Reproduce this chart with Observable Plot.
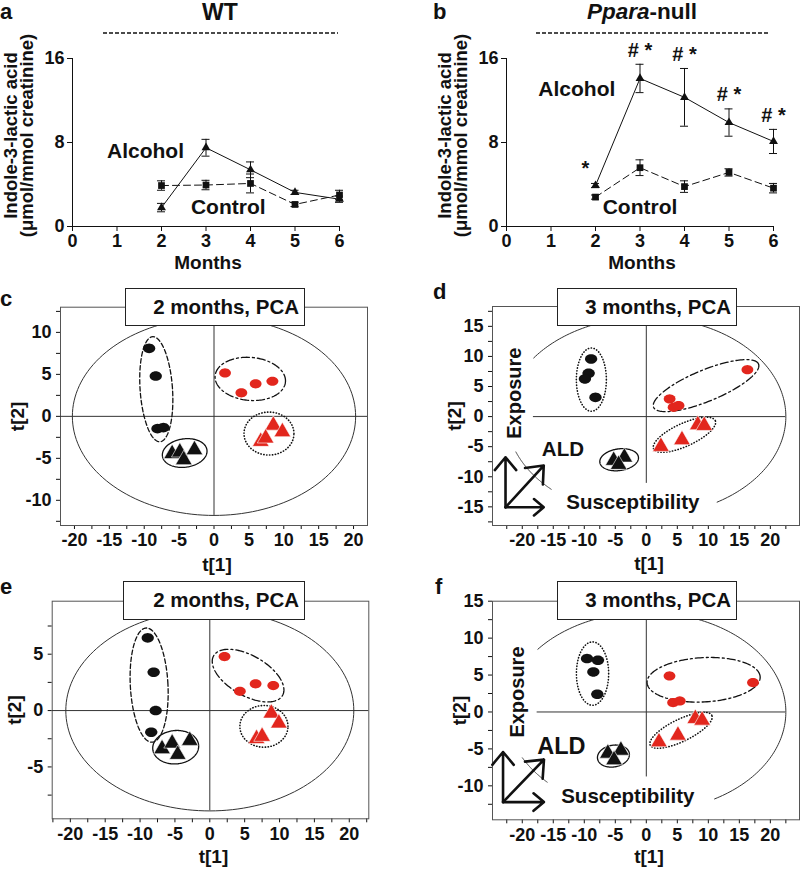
<!DOCTYPE html>
<html><head><meta charset="utf-8">
<script src="https://cdn.jsdelivr.net/npm/d3@7"></script>
<script src="https://cdn.jsdelivr.net/npm/@observablehq/plot@0.6"></script>
<style>
html,body{margin:0;padding:0;background:#fff;}
#fig{position:relative;width:800px;height:872px;overflow:hidden;font-family:'Liberation Sans',Arial,Helvetica,sans-serif;font-weight:bold;color:#111;background:#fff;}
.lbl{position:absolute;line-height:1;white-space:nowrap;}
.box{position:absolute;box-sizing:border-box;border:1.5px solid #222;background:#fff;text-align:right;padding-right:5px;font-size:20.5px;}
</style></head><body><div id="fig"></div><script>
const FONT = "'Liberation Sans', Arial, Helvetica, sans-serif";
const INK = "#111";
const RED = "#e2261d";

// ---------- Panels a & b: urinary indole-3-lactic acid ----------
const months = [2, 3, 4, 5, 6];
const wtAlcohol = [1.8, 7.5, 5.4, 3.25, 2.6];
const wtAlcoholSem = [0.4, 0.8, 0.75, 0.2, 0.3];
const wtControl = [3.9, 3.95, 4.1, 2.1, 3.0];
const wtControlSem = [0.45, 0.45, 0.9, 0.2, 0.45];
const pparaAlcohol = [3.9, 14.1, 12.3, 9.9, 8.1];
const pparaAlcoholSem = [0.2, 1.35, 2.75, 1.3, 1.15];
const pparaControl = [2.8, 5.6, 3.8, 5.15, 3.65];
const pparaControlSem = [0.2, 0.75, 0.55, 0.35, 0.45];
const pparaSig = ["*", "# *", "# *", "# *", "# *"];
const yTicksAB = [0, 8, 16];
const xTicksAB = [0, 1, 2, 3, 4, 5, 6];

// ---------- Panels c-f: PCA scores [group, t1, t2] ----------
const scoresC = [
  ["ctlWT", -9.3, 8.1], ["ctlWT", -8.35, 4.8], ["ctlWT", -8.1, -1.46], ["ctlWT", -7.25, -1.34],
  ["ctlNull", -6.0, -4.46], ["ctlNull", -4.9, -4.27], ["ctlNull", -4.33, -5.18], ["ctlNull", -2.8, -3.99],
  ["alcWT", 1.58, 5.17], ["alcWT", 3.92, 2.8], ["alcWT", 5.97, 3.87], ["alcWT", 8.37, 4.18],
  ["alcNull", 8.5, -1.07], ["alcNull", 9.8, -1.85], ["alcNull", 6.7, -3.0], ["alcNull", 7.4, -2.6]
];
const scoresD = [
  ["ctlWT", -8.9, 9.58], ["ctlWT", -9.3, 7.2], ["ctlWT", -9.9, 6.26], ["ctlWT", -8.2, 3.2],
  ["ctlNull", -5.26, -7.3], ["ctlNull", -3.54, -6.76], ["ctlNull", -4.46, -7.97],
  ["alcWT", 3.76, 2.94], ["alcWT", 4.4, 1.55], ["alcWT", 5.2, 1.83], ["alcWT", 16.3, 7.8],
  ["alcNull", 2.36, -4.98], ["alcNull", 5.75, -3.87], ["alcNull", 8.3, -1.38], ["alcNull", 9.34, -1.5]
];
const scoresE = [
  ["ctlWT", -8.9, 6.45], ["ctlWT", -8.05, 3.4], ["ctlWT", -7.76, 0.0], ["ctlWT", -8.4, -1.92],
  ["ctlNull", -6.85, -3.4], ["ctlNull", -5.4, -2.9], ["ctlNull", -4.6, -3.9], ["ctlNull", -2.87, -2.66],
  ["alcWT", 2.11, 4.79], ["alcWT", 4.31, 1.71], ["alcWT", 6.57, 2.37], ["alcWT", 9.1, 2.22],
  ["alcNull", 8.82, -0.24], ["alcNull", 9.9, -1.12], ["alcNull", 6.7, -2.5], ["alcNull", 7.5, -2.3]
];
const scoresF = [
  ["ctlWT", -9.56, 7.23], ["ctlWT", -7.8, 7.0], ["ctlWT", -8.54, 5.42], ["ctlWT", -7.9, 2.4],
  ["ctlNull", -6.2, -5.6], ["ctlNull", -4.1, -5.2], ["ctlNull", -5.2, -6.5],
  ["alcWT", 3.74, 4.88], ["alcWT", 4.32, 1.27], ["alcWT", 5.4, 1.49], ["alcWT", 17.2, 3.98],
  ["alcNull", 2.04, -4.07], ["alcNull", 5.1, -3.16], ["alcNull", 7.9, -0.9], ["alcNull", 9.0, -1.13]
];
// group ellipses [group, centre t1, centre t2, semi-axis t1, semi-axis t2, tilt deg]
const clustersC = [["ctlWT", -8.27, 3.23, 2.32, 6.27, 4], ["ctlNull", -4.2, -4.37, 3.22, 1.69, 8],
  ["alcWT", 5.2, 4.46, 5.06, 2.56, -5], ["alcNull", 7.88, -2.05, 3.58, 2.56, 0]];
const clustersD = [["ctlWT", -8.86, 6.15, 2.42, 5.26, 0], ["ctlNull", -4.38, -7.17, 3.14, 1.8, 8],
  ["alcWT", 9.63, 5.15, 9.15, 2.6, 22.4], ["alcNull", 6.15, -3.02, 5.47, 1.9, 24.6]];
const clustersE = [["ctlWT", -8.7, 2.26, 2.7, 5.07, 3], ["ctlNull", -4.89, -3.25, 3.3, 1.48, 5],
  ["alcWT", 5.49, 3.1, 5.7, 1.77, -30], ["alcNull", 7.76, -1.4, 3.45, 1.85, 0]];
const clustersF = [["ctlWT", -8.67, 5.2, 2.6, 4.29, 0], ["ctlNull", -5.3, -5.97, 2.6, 1.47, 10],
  ["alcWT", 9.24, 4.36, 9.13, 3.0, 3], ["alcNull", 5.6, -2.48, 5.52, 1.5, 25.9]];
// Hotelling T2 ellipse semi-axes [t1, t2]
const hotellingC = [20.3, 11.8];
const hotellingD = [22.5, 16.5];
const hotellingE = [20.65, 8.9];
const hotellingF = [22.5, 13.5];

const fig = document.getElementById("fig");
function place(el, left, top) { el.style.position = "absolute"; el.style.left = left + "px"; el.style.top = top + "px"; fig.appendChild(el); }
function label(text, x, baseline, size, anchor = "left", html = false) {
  const d = document.createElement("div");
  d.className = "lbl"; d.style.fontSize = size + "px";
  if (html) d.innerHTML = text; else d.textContent = text;
  d.style.left = x + "px"; d.style.top = (baseline - 0.8465 * size) + "px";
  if (anchor === "middle") d.style.transform = "translateX(-50%)";
  fig.appendChild(d);
}
const baseStyle = {background: "transparent", fontFamily: FONT, fontSize: "18px", fontWeight: "bold", color: INK, overflow: "visible"};

function linePanel(left, alc, alcSem, ctl, ctlSem, alcLabel, ctlLabel, sig) {
  const alcRows = months.map((m, i) => ({m, v: alc[i], s: alcSem[i]}));
  const ctlRows = months.map((m, i) => ({m, v: ctl[i], s: ctlSem[i]}));
  const rows = alcRows.concat(ctlRows);
  const cap = 0.09;
  const marks = [
    Plot.ruleX([0], {y1: 0, y2: 16, stroke: INK, strokeWidth: 1}),
    Plot.ruleY([0], {x1: 0, x2: 6, stroke: INK, strokeWidth: 1}),
    Plot.line(ctlRows, {x: "m", y: "v", stroke: INK, strokeWidth: 1, strokeDasharray: "7,4"}),
    Plot.line(alcRows, {x: "m", y: "v", stroke: INK, strokeWidth: 1}),
    Plot.ruleX(rows, {x: "m", y1: d => d.v - d.s, y2: d => d.v + d.s, stroke: INK, strokeWidth: 1}),
    Plot.ruleY(rows, {y: d => d.v + d.s, x1: d => d.m - cap, x2: d => d.m + cap, stroke: INK, strokeWidth: 1}),
    Plot.ruleY(rows, {y: d => d.v - d.s, x1: d => d.m - cap, x2: d => d.m + cap, stroke: INK, strokeWidth: 1}),
    Plot.dot(ctlRows, {x: "m", y: "v", symbol: "square", r: 3.8, fill: INK}),
    Plot.dot(alcRows, {x: "m", y: "v", symbol: "triangle", r: 3.3, fill: INK}),
    Plot.text(["Alcohol"], {x: alcLabel[0], y: alcLabel[1], text: d => d, fontSize: 21, fontWeight: "bold"}),
    Plot.text(["Control"], {x: ctlLabel[0], y: ctlLabel[1], text: d => d, fontSize: 21, fontWeight: "bold"}),
    Plot.text(["Indole-3-lactic acid\n(\u03bcmol/mmol creatinine)"], {frameAnchor: "left", textAnchor: "middle", lineAnchor: "middle", rotate: -90, dx: -53, dy: -7, lineHeight: 0.88, fontSize: 18.5, fontWeight: "bold", text: d => d}),
    Plot.text(["Months"], {frameAnchor: "bottom", textAnchor: "middle", lineAnchor: "middle", dx: 2, dy: 36, fontSize: 19, fontWeight: "bold", text: d => d})
  ];
  if (sig) {
    const sigRows = months.map((m, i) => ({m, top: alc[i] + alcSem[i], t: sig[i]}));
    marks.push(Plot.text(sigRows.slice(0, 1), {x: "m", y: "top", text: "t", dx: -10, dy: -15, fontSize: 20, fontWeight: "bold"}));
    marks.push(Plot.text(sigRows.slice(1), {x: "m", y: "top", text: "t", dy: -14, fontSize: 20, fontWeight: "bold"}));
  }
  const svg = Plot.plot({
    width: 360, height: 275, marginLeft: 72, marginRight: 21, marginTop: 58, marginBottom: 49,
    style: baseStyle,
    x: {domain: [0, 6], ticks: xTicksAB, tickFormat: d => String(d), tickSize: 5, tickPadding: 3, label: null},
    y: {domain: [0, 16], ticks: yTicksAB, tickFormat: d => String(d), tickSize: 5, tickPadding: 3, label: null},
    marks
  });
  place(svg, left, 0);
}

function ellipsePts(cx, cy, rx, ry, ang, sx, sy, a0 = 0, a1 = 360, n = 160) {
  const th = ang * Math.PI / 180, pts = [];
  for (let i = 0; i <= n; i++) {
    const t = (a0 + (a1 - a0) * i / n) * Math.PI / 180;
    const px = rx * sx * Math.cos(t), py = ry * sy * Math.sin(t);
    const X = px * Math.cos(th) - py * Math.sin(th);
    const Y = px * Math.sin(th) + py * Math.cos(th);
    pts.push({x: cx + X / sx, y: cy + Y / sy});
  }
  return pts;
}
const ellipseSymbol = {
  draw(ctx, size) {
    const r = Math.sqrt(size / Math.PI), rx = 1.18 * r, ry = 0.92 * r;
    ctx.moveTo(rx, 0);
    for (let i = 1; i < 32; i++) { const t = i / 32 * 2 * Math.PI; ctx.lineTo(rx * Math.cos(t), ry * Math.sin(t)); }
    ctx.closePath();
  }
};
const dashes = {
  solid: {},
  dashed: {strokeDasharray: "4.5,2.5"},
  dashdot: {strokeDasharray: "8,3,2,3"},
  dotted: {strokeDasharray: "0.3,2.6", strokeLinecap: "round", strokeWidth: 1.6}
};

function pcaPanel(cfg) {
  const {left, top, width, height, mL, mR, mT, mB, xDom, yDom} = cfg;
  const sx = (width - mL - mR) / (xDom[1] - xDom[0]);
  const sy = (height - mT - mB) / (yDom[1] - yDom[0]);
  const inDom = (v, dom) => v >= dom[0] - 1e-9 && v <= dom[1] + 1e-9;
  const xt = d3.range(-25, 25.01, 2.5).filter(v => inDom(v, xDom));
  const yt = d3.range(-20, 20.01, 2.5).filter(v => inDom(v, yDom));
  const fmt = v => Math.abs(v % 5) < 1e-9 ? String(v) : "";
  const rows = cfg.scores.map(([g, t1, t2]) => ({g, t1, t2}));
  const styleOf = {ctlWT: cfg.circleStyle, ctlNull: "solid", alcWT: "dashdot", alcNull: "dotted"};
  const marks = [
    Plot.frame({stroke: "#555", strokeWidth: 1}),
    Plot.ruleY([0], {x1: cfg.hRule[0], x2: cfg.hRule[1], stroke: "#333", strokeWidth: 1}),
    Plot.ruleX([0], {y1: cfg.vRule[0], y2: cfg.vRule[1], stroke: "#333", strokeWidth: 1})
  ];
  const [hx, hy] = cfg.hotelling;
  for (const [a0, a1] of cfg.arcs) {
    marks.push(Plot.line(ellipsePts(0, 0, hx, hy, 0, sx, sy, a0, a1), {x: "x", y: "y", stroke: "#333", strokeWidth: 1}));
  }
  for (const [g, cx, cy, rx, ry, ang] of cfg.clusters) {
    const st = dashes[styleOf[g]];
    marks.push(Plot.line(ellipsePts(cx, cy, rx, ry, ang, sx, sy), {x: "x", y: "y", stroke: INK, strokeWidth: 1.3, ...st}));
  }
  marks.push(
    Plot.dot(rows.filter(d => d.g === "ctlWT"), {x: "t1", y: "t2", symbol: ellipseSymbol, r: 5.2, fill: INK}),
    Plot.dot(rows.filter(d => d.g === "alcWT"), {x: "t1", y: "t2", symbol: ellipseSymbol, r: 5.0, fill: RED}),
    Plot.dot(rows.filter(d => d.g === "ctlNull"), {x: "t1", y: "t2", symbol: "triangle", r: 6.2, fill: INK, stroke: "#fff", strokeWidth: 0.6}),
    Plot.dot(rows.filter(d => d.g === "alcNull"), {x: "t1", y: "t2", symbol: "triangle", r: 6.2, fill: RED, stroke: "#fff", strokeWidth: 0.6}),
    Plot.text(["t[2]"], {frameAnchor: "left", rotate: -90, dx: cfg.yLabDx, textAnchor: "middle", lineAnchor: "middle", fontSize: 19, fontWeight: "bold", text: d => d}),
    Plot.text(["t[1]"], {frameAnchor: "bottom", textAnchor: "middle", lineAnchor: "middle", dx: 3, dy: cfg.xLabDy, fontSize: 19, fontWeight: "bold", text: d => d})
  );
  if (cfg.extra) marks.push(...cfg.extra);
  const svg = Plot.plot({
    width, height, marginLeft: mL, marginRight: mR, marginTop: mT, marginBottom: mB,
    style: baseStyle,
    x: {domain: xDom, ticks: xt, tickFormat: fmt, tickSize: 4, tickPadding: 4, label: null},
    y: {domain: yDom, ticks: yt, tickFormat: fmt, tickSize: 4, tickPadding: 5, label: null},
    marks
  });
  place(svg, left, top);
}

function susceptibilityMarks(origin, upY, rightX, diagY, txt, aldSize) {
  const arrows = [
    {x1: origin[0], y1: origin[1], x2: origin[0], y2: upY},
    {x1: origin[0], y1: origin[1], x2: rightX, y2: origin[1]},
    {x1: origin[0], y1: origin[1], x2: rightX, y2: diagY}
  ];
  return [
    Plot.arrow(arrows, {x1: "x1", y1: "y1", x2: "x2", y2: "y2", stroke: INK, strokeWidth: 2.6, headLength: 11, headAngle: 80}),
    Plot.text(["Exposure"], {x: txt.exp[0], y: txt.exp[1], rotate: -90, textAnchor: "middle", text: d => d, fontSize: 20, fontWeight: "bold"}),
    Plot.text(["ALD"], {x: txt.ald[0], y: txt.ald[1], text: d => d, fontSize: aldSize, fontWeight: "bold"}),
    Plot.text(["Susceptibility"], {x: txt.sus[0], y: txt.sus[1], text: d => d, fontSize: 20.5, fontWeight: "bold"})
  ];
}

// ---- build panels ----
linePanel(0, wtAlcohol, wtAlcoholSem, wtControl, wtControlSem, [1.64, 7.2], [3.5, 1.8], null);
linePanel(434, pparaAlcohol, pparaAlcoholSem, pparaControl, pparaControlSem, [1.58, 13.1], [3.0, 1.8], pparaSig);

pcaPanel({left: 0, top: 280, width: 380, height: 295, mL: 60, mR: 13, mT: 26.7, mB: 50,
  xDom: [-22, 22], yDom: [-13, 13], scores: scoresC, clusters: clustersC, circleStyle: "dashed",
  hotelling: hotellingC, arcs: [[0, 360]], hRule: [-22, 22], vRule: [-11.8, 13],
  yLabDx: -42.5, xLabDy: 39.5});
pcaPanel({left: 420, top: 280, width: 380, height: 295, mL: 72, mR: 1, mT: 26, mB: 50,
  xDom: [-24.8, 24.7], yDom: [-18.1, 18.3], scores: scoresD, clusters: clustersD, circleStyle: "dotted",
  hotelling: hotellingD, arcs: [[-59.5, 143.8], [200.9, 227]], hRule: [-18.2, 22.5], vRule: [-11.1, 16.5],
  yLabDx: -37.5, xLabDy: 38.5,
  extra: susceptibilityMarks([-22.7, -15.07], -6.76, -16.54, -8.14,
    {exp: [-21.2, 3.9], ald: [-13.45, -5.48], sus: [-2.17, -14.3]}, 20.5)});
pcaPanel({left: 0, top: 570, width: 380, height: 302, mL: 51.7, mR: 11.7, mT: 30.7, mB: 53.7,
  xDom: [-22.6, 22.8], yDom: [-9.6, 9.7], scores: scoresE, clusters: clustersE, circleStyle: "dashed",
  hotelling: hotellingE, arcs: [[0, 360]], hRule: [-22.6, 22.8], vRule: [-8.9, 9.7],
  yLabDx: -37.2, xLabDy: 38.2});
pcaPanel({left: 420, top: 570, width: 380, height: 302, mL: 72, mR: 1, mT: 30.7, mB: 52.7,
  xDom: [-24.8, 24.7], yDom: [-14.6, 15.0], scores: scoresF, clusters: clustersF, circleStyle: "dotted",
  hotelling: hotellingF, arcs: [[-60.7, 141], [207.4, 224.7]], hRule: [-17.6, 22.5], vRule: [-8.8, 13.5],
  yLabDx: -32.5, xLabDy: 37.2,
  extra: susceptibilityMarks([-23.1, -12.2], -5.42, -16.5, -6.45,
    {exp: [-20.8, 2.7], ald: [-13.7, -4.65], sus: [-2.98, -11.5]}, 23.5)});

// ---- panel letters, titles, brackets, PCA title boxes ----
label("a", 0, 20, 22);
label("WT", 220, 20, 23, "middle");
label("b", 433, 20, 22);
label("<i>Ppara</i>-null", 642, 20, 22.5, "middle", true);
label("c", 0, 306.7, 22);
label("d", 433, 300, 22);
label("e", 0, 595, 22);
label("f", 435, 595, 22);

const ns = "http://www.w3.org/2000/svg";
const brk = document.createElementNS(ns, "svg");
brk.setAttribute("width", 800); brk.setAttribute("height", 40);
brk.style.position = "absolute"; brk.style.left = "0px"; brk.style.top = "0px";
for (const [x1, x2] of [[103, 338], [536, 770]]) {
  const l = document.createElementNS(ns, "line");
  l.setAttribute("x1", x1); l.setAttribute("x2", x2); l.setAttribute("y1", 33); l.setAttribute("y2", 33);
  l.setAttribute("stroke", INK); l.setAttribute("stroke-width", 1.5); l.setAttribute("stroke-dasharray", "4,2");
  brk.appendChild(l);
}
fig.appendChild(brk);

for (const [txt, x, y, w, h] of [["2 months, PCA", 125, 288, 180, 38], ["3 months, PCA", 557, 288, 180, 38],
                                 ["2 months, PCA", 123, 581, 182, 38.6], ["3 months, PCA", 557, 581, 180, 38.6]]) {
  const b = document.createElement("div");
  b.className = "box"; b.textContent = txt;
  b.style.left = x + "px"; b.style.top = y + "px"; b.style.width = w + "px"; b.style.height = h + "px";
  b.style.lineHeight = (h - 3) + "px";
  fig.appendChild(b);
}
</script></body></html>
